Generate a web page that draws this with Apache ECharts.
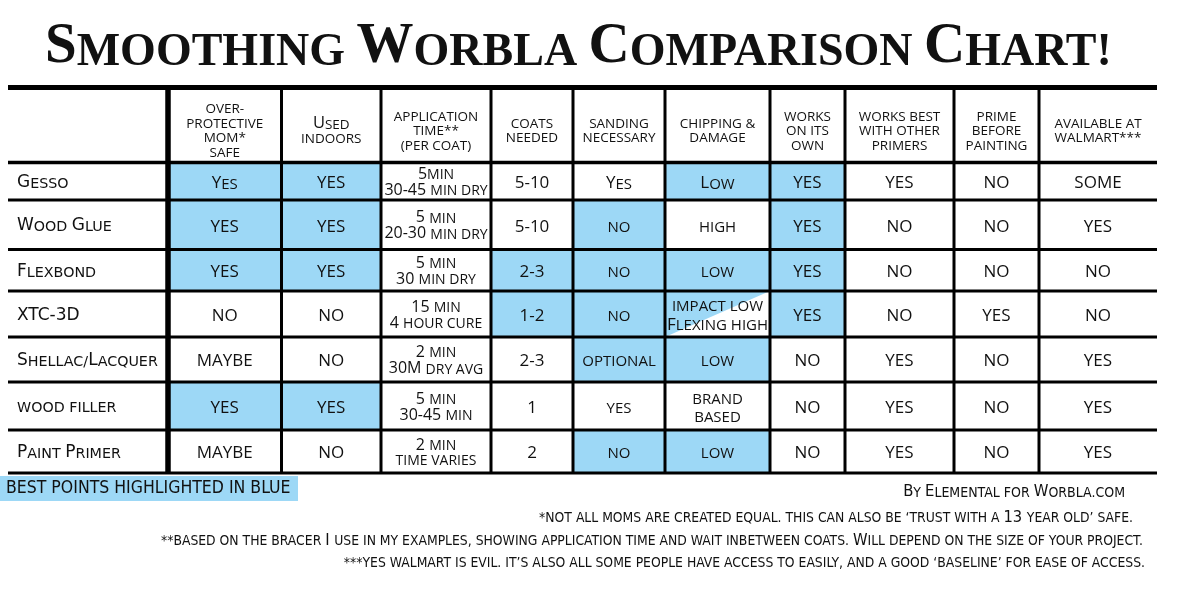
<!DOCTYPE html>
<html>
<head>
<meta charset="utf-8">
<script src="https://cdn.jsdelivr.net/npm/echarts@6/dist/echarts.min.js"></script>
<style>html,body{margin:0;padding:0;background:#fff}#c{width:1200px;height:598px}</style>
</head>
<body>
<div id="c"></div>
<script>
// ---------------- DATA ----------------
// lowercase letters are rendered as small capitals
const chartTitle = 'Smoothing Worbla Comparison Chart!';
const materials = ['Gesso', 'Wood Glue', 'Flexbond', 'XTC-3D', 'Shellac/Lacquer', 'wood filler', 'Paint Primer'];
const headers = ['over-\nprotective\nmom*\nsafe', 'Used\nindoors', 'application\ntime**\n(per coat)', 'coats\nneeded',
  'sanding\nnecessary', 'chipping &\ndamage', 'works\non its\nown', 'works best\nwith other\nprimers',
  'prime\nbefore\npainting', 'available at\nwalmart***'];
const momSafe      = ['Yes', 'YES', 'YES', 'NO', 'MAYBE', 'YES', 'MAYBE'];
const usedIndoors  = ['YES', 'YES', 'YES', 'NO', 'NO', 'YES', 'NO'];
const appTime      = ['5min\n30-45 min dry', '5 min\n20-30 min dry', '5 min\n30 min dry', '15 min\n4 hour cure',
  '2 min\n30M dry avg', '5 min\n30-45 min', '2 min\ntime varies'];
const coatsNeeded  = ['5-10', '5-10', '2-3', '1-2', '2-3', '1', '2'];
const sanding      = ['Yes', 'no', 'no', 'no', 'optional', 'yes', 'no'];
const chipping     = ['Low', 'high', 'low', 'impact low\nFlexing high', 'low', 'brand\nbased', 'low'];
const worksOwn     = ['YES', 'YES', 'YES', 'YES', 'NO', 'NO', 'NO'];
const worksBest    = ['YES', 'NO', 'NO', 'NO', 'YES', 'YES', 'YES'];
const primeFirst   = ['NO', 'NO', 'NO', 'YES', 'NO', 'NO', 'NO'];
const walmart      = ['SOME', 'YES', 'NO', 'NO', 'YES', 'YES', 'YES'];
// best points (1 = highlighted, 0.5 = half highlighted)
const hlMomSafe    = [1, 1, 1, 0, 0, 1, 0];
const hlIndoors    = [1, 1, 1, 0, 0, 1, 0];
const hlAppTime    = [0, 0, 0, 0, 0, 0, 0];
const hlCoats      = [0, 0, 1, 1, 0, 0, 0];
const hlSanding    = [0, 1, 1, 1, 1, 0, 1];
const hlChipping   = [1, 0, 1, 0.5, 1, 0, 1];
const hlWorksOwn   = [1, 1, 1, 1, 0, 0, 0];
const hlWorksBest  = [0, 0, 0, 0, 0, 0, 0];
const hlPrime      = [0, 0, 0, 0, 0, 0, 0];
const hlWalmart    = [0, 0, 0, 0, 0, 0, 0];
const legendText = 'BEST POINTS HIGHLIGHTED IN BLUE';
const creditText = 'By Elemental for Worbla.com';
const footnotes = [
  '*not all moms are created equal. this can also be \u2018trust with a 13 year old\u2019 safe.',
  '**based on the bracer I use in my examples, showing application time and wait inbetween coats. Will depend on the size of your project.',
  '***yes walmart is evil. it\u2019s also all some people have access to easily, and a good \u2018baseline\u2019 for ease of access.'
];

// ---------------- LAYOUT / STYLE ----------------
const BLUE = '#9dd8f6';
const INK = '#111111';
const SANS = "'Open Sans', 'Noto Sans', sans-serif";
const WIDE = "'DejaVu Sans', 'Open Sans', sans-serif";
const COND = "'DejaVu Sans Condensed', 'Liberation Sans Narrow', sans-serif";
const colWidths = [160, 113.5, 99.5, 110, 82, 92, 105, 75, 109, 85, 118];
const rowHeights = [75, 37.5, 49.5, 41.5, 46, 45, 48, 43];
const columns = [momSafe, usedIndoors, appTime, coatsNeeded, sanding, chipping, worksOwn, worksBest, primeFirst, walmart];
const highlights = [hlMomSafe, hlIndoors, hlAppTime, hlCoats, hlSanding, hlChipping, hlWorksOwn, hlWorksBest, hlPrime, hlWalmart];

const xEdges = [0]; colWidths.forEach(w => xEdges.push(xEdges[xEdges.length - 1] + w));
const yEdges = [0]; rowHeights.forEach(h => yEdges.push(yEdges[yEdges.length - 1] + h));
const totalW = xEdges[xEdges.length - 1], totalH = yEdges[yEdges.length - 1];

// small-caps rich text helper
function classOf(ch) {
  if (/[a-z]/.test(ch)) return 'S';
  if (/[A-Z0-9]/.test(ch)) return 'B';
  return null;
}
function smallCaps(text) {
  return text.split('\n').map(line => {
    const chars = Array.from(line);
    let out = '', cur = null, buf = '';
    chars.forEach((ch, i) => {
      let cls = classOf(ch);
      if (!cls) {
        cls = cur;
        if (!cls) { for (let j = i + 1; j < chars.length && !cls; j++) cls = classOf(chars[j]); }
        cls = cls || 'B';
      }
      if (cls !== cur && buf) { out += '{' + cur + '|' + buf + '}'; buf = ''; }
      cur = cls; buf += ch.toUpperCase();
    });
    if (buf) out += '{' + cur + '|' + buf + '}';
    return out;
  }).join('\n');
}
function richSC(family, big, small, lh, weight, k) {
  k = k || 0.57;
  return {
    B: { fontFamily: family, fontSize: big, fontWeight: weight || 'normal', color: INK, lineHeight: lh + k * (big - small), verticalAlign: 'bottom' },
    S: { fontFamily: family, fontSize: small, fontWeight: weight || 'normal', color: INK, lineHeight: lh, verticalAlign: 'bottom' }
  };
}
const richLabel = richSC(WIDE, 17, 14.3, 18, 'normal', 0.594);
const richHeader = richSC(SANS, 16.5, 13.5, 14.5);
const richValue = richSC(SANS, 17, 15, 18);
const richTime = richSC(SANS, 16, 14, 15);

// build cells
const cells = [];
materials.forEach((m, r) => cells.push({ c: 0, r: r + 1, text: m, rich: richLabel, align: 'left', hl: 0 }));
headers.forEach((h, c) => cells.push({ c: c + 1, r: 0, text: h, rich: richHeader, align: 'center', hl: 0, dy: 6 }));
columns.forEach((col, c) => col.forEach((v, r) => cells.push({
  c: c + 1, r: r + 1, text: v, rich: c === 2 ? richTime : richValue, align: 'center', hl: highlights[c][r], dy: 1
})));

// grid lines (table rules)
const rules = [];
for (let i = 0; i < yEdges.length; i++) rules.push({ h: true, i, w: i === 0 ? 5 : (i === 1 ? 3.5 : 3) });
for (let i = 1; i < xEdges.length - 1; i++) rules.push({ h: false, i, w: i === 1 ? 5.5 : 3 });

const chart = echarts.init(document.getElementById('c'), null, { renderer: 'canvas' });
const footTitles = footnotes.map((f, i) => ({
  text: smallCaps(f), right: [67, 57, 55][i], top: [508, 531, 554][i], padding: 0,
  textStyle: { rich: richSC(COND, 16.4, 13.8, 16, 'normal', 0.594) }
}));
chart.setOption({
  animation: false,
  backgroundColor: '#ffffff',
  title: [
    { text: smallCaps(chartTitle), left: 45, top: 19, padding: 0,
      textStyle: { rich: richSC("'Liberation Serif', 'DejaVu Serif', serif", 57, 46, 50, 'bold', 0.61) } },
    { text: smallCaps(creditText), right: 75, top: 483, padding: 0,
      textStyle: { rich: richSC(COND, 16.5, 14, 16, 'normal', 0.594) } },
    ...footTitles
  ],
  graphic: [
    { type: 'rect', left: 0, top: 476, shape: { width: 298, height: 25 }, style: { fill: BLUE }, silent: true },
    { type: 'text', left: 6, top: 479.5, style: { text: legendText, fill: INK, font: "17.5px " + COND }, silent: true }
  ],
  grid: { left: 8, top: 87.5, width: totalW, height: totalH },
  xAxis: { type: 'value', min: 0, max: totalW, show: false },
  yAxis: { type: 'value', min: 0, max: totalH, inverse: true, show: false },
  series: [
    {
      type: 'custom', silent: true, z: 1,
      data: cells.map(d => [d.c, d.r]),
      renderItem: function (params, api) {
        const d = cells[params.dataIndex];
        const p0 = api.coord([xEdges[d.c], yEdges[d.r]]);
        const p1 = api.coord([xEdges[d.c + 1], yEdges[d.r + 1]]);
        const children = [];
        if (d.hl === 1) {
          children.push({ type: 'rect', shape: { x: p0[0], y: p0[1], width: p1[0] - p0[0], height: p1[1] - p0[1] }, style: { fill: BLUE } });
        } else if (d.hl === 0.5) {
          children.push({ type: 'polygon', shape: { points: [[p0[0], p0[1]], [p1[0], p0[1]], [p0[0], p1[1]]] }, style: { fill: BLUE } });
        }
        const x = d.align === 'left' ? p0[0] + 9 : (p0[0] + p1[0]) / 2;
        children.push({
          type: 'text', x: x, y: (p0[1] + p1[1]) / 2 + (d.dy || 0),
          style: { text: smallCaps(d.text), rich: d.rich, align: d.align, verticalAlign: 'middle', fill: INK }
        });
        return { type: 'group', children };
      }
    },
    {
      type: 'custom', silent: true, z: 2,
      data: rules.map(r => [r.i]),
      renderItem: function (params, api) {
        const r = rules[params.dataIndex];
        let a, b;
        if (r.h) { a = api.coord([0, yEdges[r.i]]); b = api.coord([totalW, yEdges[r.i]]); }
        else { a = api.coord([xEdges[r.i], 0]); b = api.coord([xEdges[r.i], totalH]); }
        return { type: 'line', shape: { x1: a[0], y1: a[1], x2: b[0], y2: b[1] }, style: { stroke: '#000', lineWidth: r.w } };
      }
    }
  ]
});
</script>
</body>
</html>
